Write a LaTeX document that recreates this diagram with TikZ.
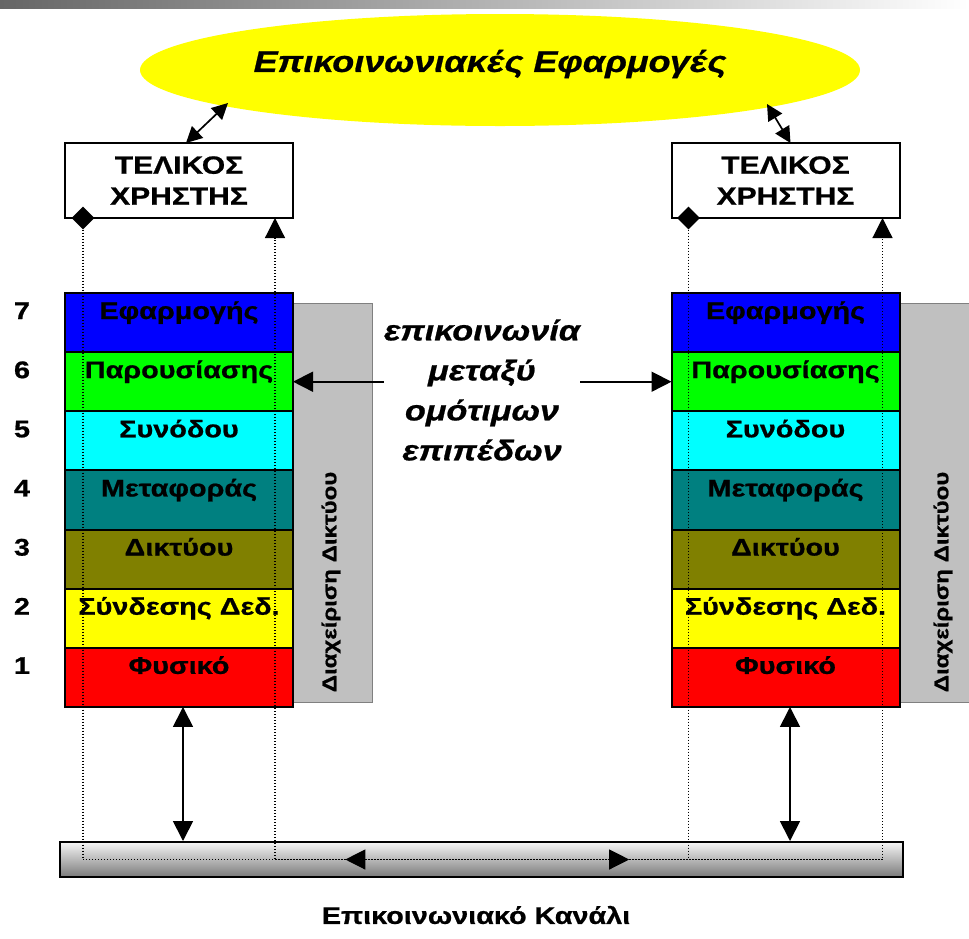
\documentclass[tikz,border=0pt]{standalone}
\usepackage{fontspec}
\setmainfont{Liberation Sans}[FakeStretch=1.2, BoldFeatures={FakeBold=0.8}, BoldItalicFeatures={FakeBold=0.8}]
\usetikzlibrary{arrows.meta,positioning,calc,shapes.geometric,decorations.markings}

\begin{document}
\begin{tikzpicture}[x=1pt,y=-1pt]
\useasboundingbox (0,0) rectangle (969,938);
\definecolor{appblue}{HTML}{0000FF}
\definecolor{presgreen}{HTML}{00FF00}
\definecolor{sesscyan}{HTML}{00FFFF}
\definecolor{transteal}{HTML}{008080}
\definecolor{netolive}{HTML}{808000}
\definecolor{linkyellow}{HTML}{FFFF00}
\definecolor{physred}{HTML}{FF0000}
\definecolor{mgmtgray}{HTML}{C0C0C0}
\tikzset{
     >={Triangle[length=20pt,width=20pt]},
     layer/.style={draw, line width=2pt, minimum width=228pt, minimum height=59.14pt, inner sep=0pt, outer sep=0pt},
     layertext/.style={anchor=base, font=\bfseries\fontsize{24}{28}\selectfont},
     userbox/.style={draw, fill=white, line width=2pt, minimum width=228pt, minimum height=75pt, align=center, outer sep=0pt,
                     font=\bfseries\fontsize{25}{31}\selectfont},
     mgmt/.style={draw=black!50, fill=mgmtgray, line width=1pt, minimum width=92pt, minimum height=399pt, inner sep=0pt},
     mgmttext/.style={rotate=90, font=\bfseries\fontsize{20}{22}\selectfont},
     dmark/.style={diamond, fill=black, minimum size=23pt, inner sep=0pt},
     dotline/.style={line width=1.2pt, dash pattern=on 1.3pt off 1.7pt},
     arrline/.style={line width=1.7pt}}

%top bar
\shade[left color=black!60, right color=white] (0,0) rectangle (969,8);

% Applications
\node (apps) [ellipse, fill=linkyellow, minimum width=720pt, minimum height=112pt, inner sep=0pt] at (500,70) {};
\node (appstxt) at ([xshift=-10pt,yshift=6pt]apps.center) [font=\bfseries\itshape\fontsize{30}{36}\selectfont] {Επικοινωνιακές Εφαρμογές};

% End users
\node (LU) [userbox] at (179,180.5) {ΤΕΛΙΚΟΣ\\ΧΡΗΣΤΗΣ};
\node (RU) [userbox, right=378.5pt of LU] {ΤΕΛΙΚΟΣ\\ΧΡΗΣΤΗΣ};

\draw [arrline, {Triangle[length=16pt,width=16pt]}-{Triangle[length=16pt,width=16pt]}] ([xshift=-272pt,yshift=-33pt]apps.center) -- ([xshift=7pt]LU.north);
\draw [arrline, {Triangle[length=16pt,width=16pt]}-{Triangle[length=16pt,width=16pt]}] ([xshift=267pt,yshift=-34pt]apps.center) -- ([xshift=5pt]RU.north);

% Network management
\node (Lmgmt) [mgmt] at (326,502.5) {};
\node (Rmgmt) [mgmt, right=514pt of Lmgmt] {};
\node (Lmgmttxt) [mgmttext] at (331,582) {Διαχείριση Δικτύου};
\node (Rmgmttxt) [mgmttext] at (943,582) {Διαχείριση Δικτύου};

% The layers
\coordinate (Ltop) at ([yshift=-75pt]LU.south);
\coordinate (Rtop) at ([yshift=-75pt]RU.south);
\foreach \stk in {L,R}{
  \foreach \lname/\ltext/\lcol [remember=\lname as \prev (initially top)] in
     {app/Εφαρμογής/appblue, pres/Παρουσίασης/presgreen, sess/Συνόδου/sesscyan,
      trans/Μεταφοράς/transteal, net/Δικτύου/netolive, link/Σύνδεσης Δεδ./linkyellow,
      phys/Φυσικό/physred}{
    \node (\stk\lname) [layer, fill=\lcol, below=0pt of \stk\prev] {};
    \node (\stk\lname lbl) [layertext] at ([yshift=-26pt]\stk\lname.north) {\ltext};
  }
}

% layer numbers
\coordinate (numcol) at (22,0);
\foreach \lname/\n in {app/7, pres/6, sess/5, trans/4, net/3, link/2, phys/1}
  \node (num\n) [layertext] at (numcol |- L\lname lbl.base) {\n};

% peer communication
\node (peer) [text width=196pt, inner sep=0pt, align=center,
              font=\bfseries\itshape\fontsize{28.5}{40}\selectfont] at (482,390) {επικοινωνία\\μεταξύ\\ομότιμων\\επιπέδων};
\draw [arrline, ->] (peer.west |- Lpres.east) -- (Lpres.east);
\draw [arrline, ->] (peer.east |- Rpres.west) -- (Rpres.west);

% The channel
\node (chan) [draw, line width=2pt, top color=black!4, bottom color=black!52, minimum width=843pt, minimum height=35pt] at (481.5,859.5) {};
\node (chanlbl) at (476,915) [font=\bfseries\fontsize{24}{28}\selectfont] {Επικοινωνιακό Κανάλι};

\draw [arrline, <->] ([xshift=4pt]Lphys.south) -- ([xshift=4pt]Lphys.south |- chan.north);
\draw [arrline, <->] ([xshift=4.5pt]Rphys.south) -- ([xshift=4.5pt]Rphys.south |- chan.north);

% dotted paths between the users
\node (Ldia) [dmark] at ([xshift=18pt]LU.south west) {};
\node (Rdia) [dmark] at ([xshift=17pt]RU.south west) {};
\coordinate (Ltip) at ([xshift=-18pt]LU.south east);
\coordinate (Rtip) at ([xshift=-17pt]RU.south east);

\draw [dotline, ->, postaction={decorate, decoration={markings, mark=at position 1176pt with {\arrow{>}}}}]
  (Ldia.south) -- (Ldia.south |- chan.center) -- (Rtip |- chan.center) -- (Rtip);
\draw [dotline, ->, postaction={decorate, decoration={markings, mark=at position 973pt with {\arrow{>}}}}]
  (Rdia.south) -- (Rdia.south |- chan.center) -- (Ltip |- chan.center) -- (Ltip);
\end{tikzpicture}
\end{document}
